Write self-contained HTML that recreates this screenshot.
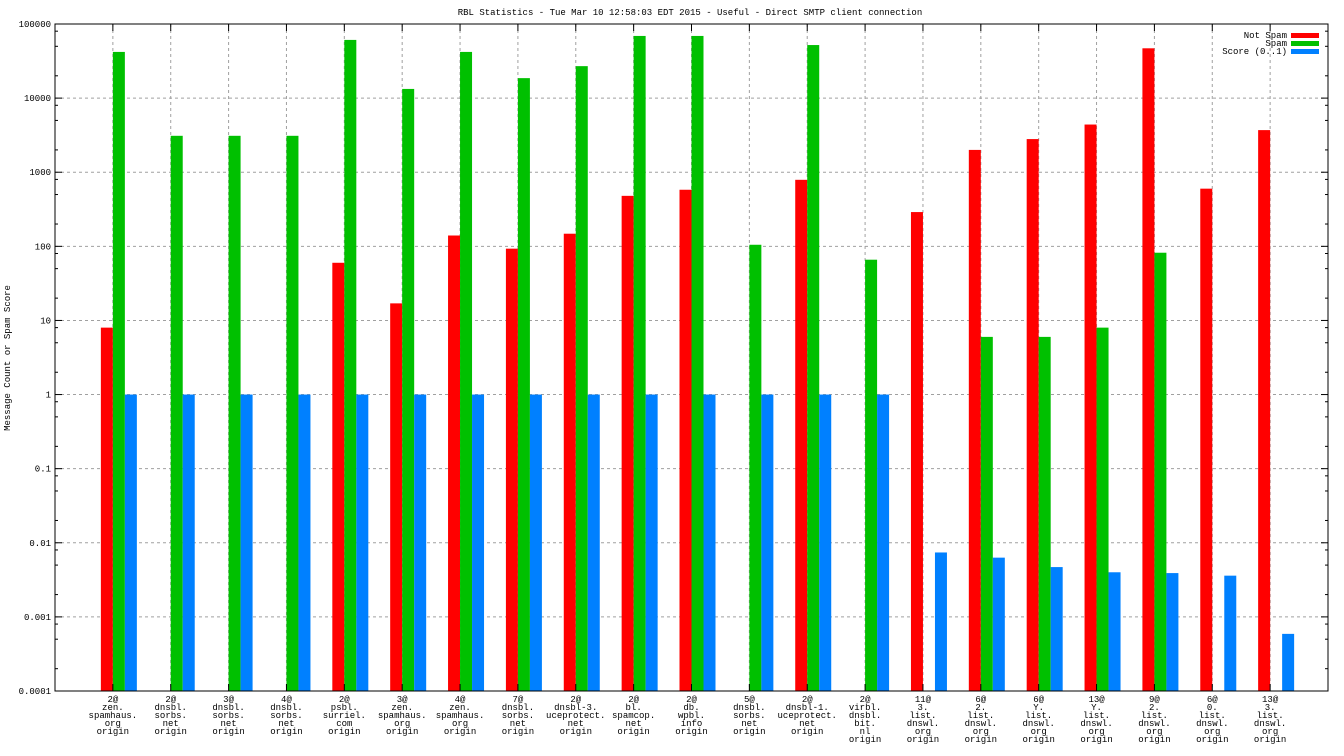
<!DOCTYPE html>
<html><head><meta charset="utf-8"><style>
html,body{margin:0;padding:0;background:#fff;}
svg{display:block;font-family:"Liberation Mono","DejaVu Sans Mono",monospace;font-size:9px;}
</style></head><body>
<svg id="chart" width="1344" height="756" xmlns="http://www.w3.org/2000/svg">
<text x="690" y="15" text-anchor="middle">RBL Statistics - Tue Mar 10 12:58:03 EDT 2015 - Useful - Direct SMTP client connection</text>
<text transform="translate(10,358) rotate(-90)" text-anchor="middle">Message Count or Spam Score</text>
<g id="grid"></g><g id="bars"></g><g id="axes"></g>
<g>
<text x="1287" y="38" text-anchor="end">Not Spam</text><rect x="1291" y="33" width="28" height="5" fill="#ff0000"/>
<text x="1287" y="46" text-anchor="end">Spam</text><rect x="1291" y="41" width="28" height="5" fill="#00c000"/>
<text x="1287" y="54" text-anchor="end">Score (0..1)</text><rect x="1291" y="49" width="28" height="5" fill="#0080ff"/>
</g>
</svg>
<script>
const categories=[
["2@","zen.","spamhaus.","org","origin"],["2@","dnsbl.","sorbs.","net","origin"],["3@","dnsbl.","sorbs.","net","origin"],["4@","dnsbl.","sorbs.","net","origin"],
["2@","psbl.","surriel.","com","origin"],["3@","zen.","spamhaus.","org","origin"],["4@","zen.","spamhaus.","org","origin"],["7@","dnsbl.","sorbs.","net","origin"],
["2@","dnsbl-3.","uceprotect.","net","origin"],["2@","bl.","spamcop.","net","origin"],["2@","db.","wpbl.","info","origin"],["5@","dnsbl.","sorbs.","net","origin"],
["2@","dnsbl-1.","uceprotect.","net","origin"],["2@","virbl.","dnsbl.","bit.","nl","origin"],["11@","3.","list.","dnswl.","org","origin"],["6@","2.","list.","dnswl.","org","origin"],
["6@","Y.","list.","dnswl.","org","origin"],["13@","Y.","list.","dnswl.","org","origin"],["9@","2.","list.","dnswl.","org","origin"],["6@","0.","list.","dnswl.","org","origin"],["13@","3.","list.","dnswl.","org","origin"]];
const notSpam=[8,null,null,null,60,17,140,93,148,480,580,null,790,null,290,2000,2800,4400,47000,600,3700];
const spam=[42000,3100,3100,3100,61000,13300,42000,18600,27000,69000,69000,105,52000,66,null,6,6,8,82,null,null];
const score=[1,1,1,1,1,1,1,1,1,1,1,1,1,1,0.0074,0.0063,0.0047,0.004,0.0039,0.0036,0.00059];
const yTicks=["0.0001","0.001","0.01","0.1","1","10","100","1000","10000","100000"];
const NS="http://www.w3.org/2000/svg";
const L=55,R=1328,T=24,B=691;
const xPos=i=>L+(i+1)*(R-L)/22;
const yPos=v=>B-(Math.log10(v)+4)/9*(B-T);
function mk(tag,attrs,parent){const e=document.createElementNS(NS,tag);for(const k in attrs)e.setAttribute(k,attrs[k]);parent.appendChild(e);return e;}
const grid=document.getElementById('grid'),bars=document.getElementById('bars'),axes=document.getElementById('axes');
yTicks.forEach((t,k)=>{const y=yPos(parseFloat(t));
 if(k>0&&k<yTicks.length-1){const g=mk('line',{x1:L,x2:R,y1:y,y2:y,stroke:'#a0a0a0','stroke-dasharray':'3,3'},grid);
 
 }
 const tx=mk('text',{x:L-4,y:y+3,'text-anchor':'end'},axes);tx.textContent=t;
 
 
 mk('line',{x1:L,x2:L+7,y1:y,y2:y,stroke:'#000'},axes);mk('line',{x1:R,x2:R-7,y1:y,y2:y,stroke:'#000'},axes);
 if(k<yTicks.length-1)[2,5,8].forEach(m=>{const ym=yPos(parseFloat(t)*m);mk('line',{x1:L,x2:L+3,y1:ym,y2:ym,stroke:'#000'},axes);mk('line',{x1:R,x2:R-3,y1:ym,y2:ym,stroke:'#000'},axes);});
});
const series=[[notSpam,'#ff0000',-12,'bar-not-spam'],[spam,'#00c000',0,'bar-spam'],[score,'#0080ff',12,'bar-score']];
categories.forEach((c,i)=>{const x=xPos(i);
 const g=mk('line',{x1:x,x2:x,y1:T,y2:B,stroke:'#a0a0a0','stroke-dasharray':'3,3'},grid);
 
 
 mk('line',{x1:x,x2:x,y1:B,y2:B-7,stroke:'#000'},axes);mk('line',{x1:x,x2:x,y1:T,y2:T+7,stroke:'#000'},axes);
 series.forEach(([arr,col,off,nm])=>{const v=arr[i];if(v==null)return;const y=yPos(v);
  const r=mk('rect',{x:x+off,y:y,width:12,height:B-y,fill:col},bars);
  
  });
 c.forEach((ln,j)=>{const t=mk('text',{x:x,y:702+j*8,'text-anchor':'middle'},axes);t.textContent=ln;
  
  });
});
const fr=mk('rect',{x:L,y:T,width:R-L,height:B-T,fill:'none',stroke:'#000'},axes);


</script>
</body></html>
